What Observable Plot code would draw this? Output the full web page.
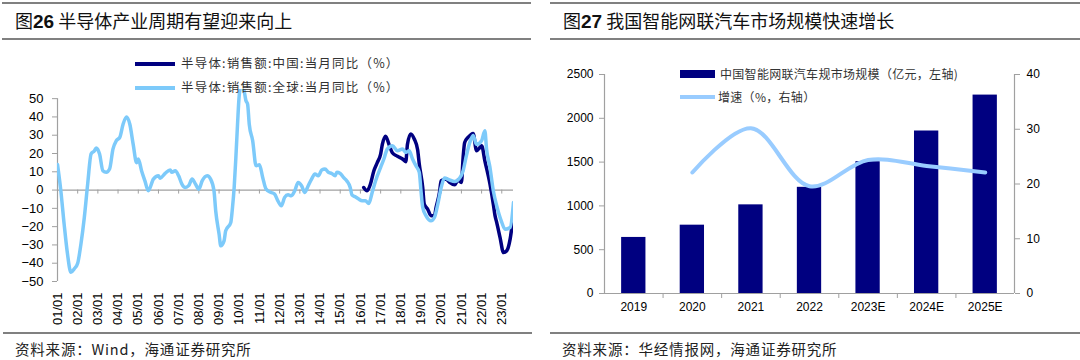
<!DOCTYPE html>
<html><head><meta charset="utf-8">
<script src="https://cdn.jsdelivr.net/npm/d3@7"></script>
<script src="https://cdn.jsdelivr.net/npm/@observablehq/plot@0.6"></script>
<style>
body{margin:0;background:#fff;}
#wrap{position:relative;width:1080px;height:360px;overflow:hidden;background:#fff;font-family:"Liberation Sans","Noto Sans CJK SC",sans-serif;}
.hr{position:absolute;height:2px;background:#808080;}
.title{position:absolute;font-family:"Noto Sans CJK SC";font-size:18px;color:#111;white-space:nowrap;line-height:1;}
.title b{font-family:"Liberation Sans";font-weight:bold;font-size:19px;}
.cap{position:absolute;font-family:"Noto Sans CJK SC";font-size:14.5px;color:#222;white-space:nowrap;line-height:1;letter-spacing:0.8px;}
.leg{position:absolute;font-family:"Noto Sans CJK SC";font-size:12.5px;color:#333;white-space:nowrap;line-height:1;letter-spacing:1.2px;}
.sw{position:absolute;}
.chart{position:absolute;top:40px;}
</style></head>
<body><div id="wrap">
<div class="hr" style="top:2px;left:2px;width:529px"></div>
<div class="hr" style="top:38px;left:2px;width:529px"></div>
<div class="hr" style="top:2px;left:550px;width:530px"></div>
<div class="hr" style="top:38px;left:550px;width:530px"></div>
<div class="title" style="left:15px;top:11px">图<b>26</b> 半导体产业周期有望迎来向上</div>
<div class="title" style="left:563px;top:11px">图<b>27</b> 我国智能网联汽车市场规模快速增长</div>
<div id="left" class="chart" style="left:0"></div>
<div id="right" class="chart" style="left:540px"></div>
<div class="sw" style="left:135px;top:62px;width:40px;height:4px;background:#000080"></div>
<div class="leg" style="left:181px;top:57px">半导体:销售额:中国:当月同比（%）</div>
<div class="sw" style="left:135px;top:86px;width:40px;height:4px;background:#7dcafa"></div>
<div class="leg" style="left:181px;top:81px">半导体:销售额:全球:当月同比（%）</div>
<div class="sw" style="left:680px;top:70px;width:35px;height:8px;background:#000080"></div>
<div class="leg" style="left:720px;top:68px;font-size:12px;letter-spacing:0.3px">中国智能网联汽车规市场规模（亿元，左轴)</div>
<div class="sw" style="left:680px;top:95px;width:35px;height:4px;background:#99ccff"></div>
<div class="leg" style="left:718px;top:91px;font-size:12px;letter-spacing:0.3px">增速（%，右轴）</div>
<div class="hr" style="top:332px;left:3px;width:529px"></div>
<div class="hr" style="top:332px;left:550px;width:530px"></div>
<div class="cap" style="left:15px;top:342px">资料来源：Wind，海通证券研究所</div>
<div class="cap" style="left:562px;top:342px">资料来源：华经情报网，海通证券研究所</div>
</div>
<script>
// ---------- Data: Figure 26 ----------
const chinaSeries = [
["2016-03",1.4],["2016-05",-0.4],["2016-07",3.3],["2016-09",10.6],["2016-11",15],
["2017-01",19.7],["2017-02",25],["2017-04",29.5],["2017-06",25],["2017-08",20.4],["2017-11",18.5],
["2018-02",17],["2018-04",15.5],["2018-05",25],["2018-07",30.7],["2018-09",27.9],["2018-11",22],["2018-12",14.2],
["2019-02",1.4],["2019-03",-7.7],["2019-05",-10.4],["2019-07",-14],["2019-09",-14],["2019-10",-9.5],["2019-12",-1.3],
["2020-01",5.1],["2020-04",6],["2020-06",4.2],["2020-09",2.9],["2020-11",5.5],
["2021-01",4.2],["2021-02",17.9],["2021-03",26],["2021-05",28.8],["2021-08",31],["2021-10",21.5],["2021-12",23.3],
["2022-01",24.3],["2022-03",16],["2022-06",3.3],["2022-08",-7.7],["2022-09",-14],["2022-10",-17.7],["2022-12",-26],
["2023-02",-34.2],["2023-04",-33.2],["2023-06",-26.8],["2023-08",-13.1]
];
const globalSeries = [
["2001-01",14],["2001-03",0],["2001-05",-18.6],["2001-07",-35],["2001-09",-45],["2001-11",-43],
["2002-01",-40],["2002-03",-29.5],["2002-05",-15],["2002-07",3.4],["2002-09",19.8],["2002-11",21.5],["2002-12",23],
["2003-02",19.7],["2003-04",10.6],["2003-06",9.7],["2003-08",11.5],["2003-10",22.4],["2003-12",27],
["2004-02",28.8],["2004-04",36],["2004-06",40],["2004-08",36],["2004-10",25],["2004-12",15],
["2005-01",17],["2005-03",10.6],["2005-05",5],["2005-07",-0.4],["2005-10",6],
["2006-01",7.8],["2006-02",6.5],["2006-05",9.1],["2006-08",11],["2006-09",9.7],["2006-11",10.6],
["2007-01",7.8],["2007-03",3.3],["2007-05",1.4],["2007-07",2.4],["2007-09",6],["2007-11",3.3],
["2008-01",0.5],["2008-03",5],["2008-06",7.8],["2008-08",6],["2008-10",-0.4],["2008-11",-11.3],
["2009-01",-24],["2009-02",-30.5],["2009-04",-27.8],["2009-05",-22.3],["2009-08",-17.7],["2009-09",-9.5],["2009-10",1.4],["2009-11",17.9],["2009-12",36],
["2010-01",52],["2010-02",57],["2010-03",58],["2010-04",54],["2010-05",49],["2010-06",47],["2010-07",36],["2010-09",27],["2010-11",13.3],
["2011-01",13.9],["2011-03",6.9],["2011-05",0.5],["2011-08",-1.3],["2011-10",-2.2],["2011-12",-5.9],
["2012-02",-8.6],["2012-04",-4],["2012-06",-2.6],["2012-08",-3.1],["2012-10",-0.4],["2012-12",4.2],
["2013-02",2.4],["2013-04",-1.3],["2013-06",2.4],["2013-08",6],["2013-10",8.8],["2013-12",7.8],
["2014-02",11],["2014-04",11.5],["2014-06",9.7],["2014-08",9.1],["2014-10",7.8],["2014-11",9.7],
["2015-01",9.1],["2015-03",6.9],["2015-05",5],["2015-07",1.4],["2015-08",-2.6],["2015-10",-3.7],["2015-12",-4.9],
["2016-02",-5.9],["2016-04",-5.9],["2016-06",-7.3],["2016-08",-1.3],["2016-10",5],
["2017-01",12.4],["2017-03",17],["2017-05",22.4],["2017-08",24.3],["2017-11",21.5],
["2018-02",22.4],["2018-04",20.6],["2018-06",21.5],["2018-08",17],["2018-10",13.3],["2018-12",9.7],
["2019-01",-0.4],["2019-02",-9.5],["2019-04",-14],["2019-07",-16.8],["2019-09",-15],["2019-11",-7.7],
["2020-01",1.4],["2020-03",6.6],["2020-06",5.5],["2020-09",4.7],["2020-12",6.6],
["2021-02",10.6],["2021-04",18.8],["2021-06",26],["2021-08",29.8],["2021-10",25],
["2022-01",27],["2022-03",32.5],["2022-04",22.4],["2022-06",12.4],["2022-08",-0.4],["2022-10",-8.6],
["2023-01",-17.7],["2023-03",-21.4],["2023-06",-20.5],["2023-08",-6.8]
];
const xTickMonths = ["2001-01","2002-01","2003-01","2004-01","2005-01","2006-01","2007-01","2008-01","2009-01","2010-01","2011-01","2012-01","2013-01","2014-01","2015-01","2016-01","2017-01","2018-01","2019-01","2020-01","2021-01","2022-01","2023-01"];
const yTicksLeft = [50,40,30,20,10,0,-10,-20,-30,-40,-50];
const xDomainMonths = ["2001-01","2023-08"];

// ---------- Data: Figure 27 ----------
const years = ["2019","2020","2021","2022","2023E","2024E","2025E"];
const marketSize = [640,780,1012,1212,1505,1855,2265];
const growthRate = [null,22.1,30.2,19.6,24.4,23.3,22.1];
const leftTicks = [0,500,1000,1500,2000,2500];
const rightTicks = [0,10,20,30,40];

const parse = d3.utcParse("%Y-%m");
const toRows = s => s.map(([m,v]) => ({date: parse(m), value: v}));
const gray = "#a0a0a0";

// ----- Left chart -----
{
  const W = 540, H = 293;
  const chart = Plot.plot({
    width: W, height: H,
    marginTop: 49, marginBottom: 52, marginLeft: 57, marginRight: 27,
    style: {fontFamily: "'Liberation Sans', Arial, sans-serif", fontSize: "13px", color: "#000", background: "transparent"},
    x: {type: "utc", domain: xDomainMonths.map(parse), axis: null},
    y: {domain: [-50, 55], axis: null},
    marks: [
      Plot.ruleY([0], {stroke: gray, strokeWidth: 1.2}),
      Plot.ruleX([parse(xDomainMonths[0])], {y1: d3.min(yTicksLeft), y2: d3.max(yTicksLeft), stroke: gray, strokeWidth: 1.2}),
      Plot.ruleX(xTickMonths.map(parse), {x: d => d, y1: 0, y2: 0, insetBottom: -4, stroke: gray}),
      Plot.axisY({ticks: yTicksLeft, tickSize: 5, tickPadding: 9, fontSize: 13, stroke: gray, fill: "#000", label: null}),
      Plot.axisX({ticks: xTickMonths.map(parse), tickFormat: d3.utcFormat("%y/%m"), tickRotate: -90, tickSize: 0, tickPadding: 11, fontSize: 13, fill: "#000", label: null}),
      Plot.line(toRows(chinaSeries), {x: "date", y: "value", stroke: "#000080", strokeWidth: 3.5, curve: "monotone-x", clip: true}),
      Plot.line(toRows(globalSeries), {x: "date", y: "value", stroke: "#7dcafa", strokeWidth: 3.5, curve: "monotone-x", clip: true})
    ]
  });
  document.getElementById("left").append(chart);
}

// ----- Right chart -----
{
  const W = 540, H = 293, mL = 64, mR = 66, mT = 34, mB = 40;
  const step = (W - mL - mR) / years.length;
  const plotH = H - mT - mB;
  const yMax = d3.max(leftTicks), rMax = d3.max(rightTicks);
  const k = yMax / rMax;
  const rows = years.map((y, i) => ({year: y, size: marketSize[i], growth: growthRate[i]}));
  const chart = Plot.plot({
    width: W, height: H,
    marginTop: mT, marginBottom: mB, marginLeft: mL, marginRight: mR,
    style: {fontFamily: "'Liberation Sans', Arial, sans-serif", fontSize: "12px", color: "#000", background: "transparent"},
    x: {type: "band", domain: years, paddingInner: 0.585, paddingOuter: 0.2925, round: false, axis: null},
    y: {domain: [0, yMax], axis: null},
    marks: [
      Plot.barY(rows, {x: "year", y: "size", fill: "#000080"}),
      Plot.line(rows.filter(d => d.growth != null), {x: "year", y: d => d.growth * k, stroke: "#99ccff", strokeWidth: 4, curve: "catmull-rom"}),
      Plot.ruleY([0], {stroke: gray, strokeWidth: 1.2}),
      Plot.ruleX([years[0]], {dx: -step / 2, stroke: gray, strokeWidth: 1.2}),
      Plot.ruleX([years[years.length - 1]], {dx: step / 2, stroke: gray, strokeWidth: 1.2}),
      Plot.ruleX(years.slice(0, -1), {dx: step / 2, insetTop: plotH, insetBottom: -5, stroke: gray}),
      Plot.axisY({ticks: leftTicks, tickFormat: d3.format("d"), tickSize: 5, tickPadding: 6, fontSize: 12, stroke: gray, fill: "#000", label: null}),
      Plot.axisY({anchor: "right", ticks: rightTicks.map(v => v * k), tickFormat: v => String(Math.round(v / k)), tickSize: 5, tickPadding: 7, fontSize: 12, stroke: gray, fill: "#000", label: null}),
      Plot.axisX({tickSize: 0, tickPadding: 9, fontSize: 12, fill: "#000", label: null})
    ]
  });
  document.getElementById("right").append(chart);
}
</script>
</body></html>
